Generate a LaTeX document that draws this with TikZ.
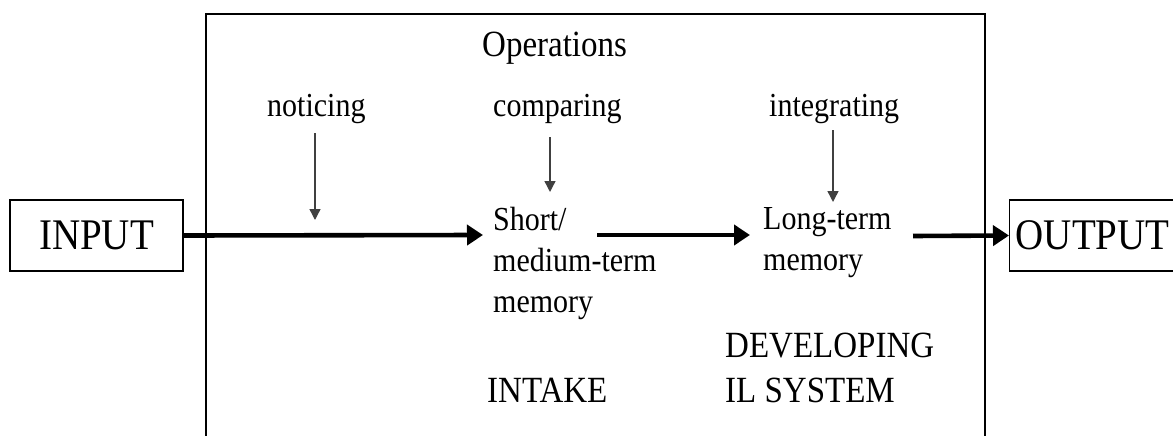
\documentclass[tikz,border=0pt]{standalone}
\usepackage{fontspec}
\usepackage{graphicx}
\setmainfont{Liberation Serif}
\usetikzlibrary{arrows.meta}
\newcommand\vstretch[1]{\scalebox{1}[1.12]{#1}}
\tikzset{
  lbl/.style={inner sep=0pt, anchor=base west},
  mlbl/.style={inner sep=0pt, anchor=north west, align=left},
  iobox/.style={draw, line width=1.2pt, inner sep=0pt, minimum height=71pt, font=\fontsize{39}{44}\selectfont},
  thick arrow/.style={line width=4.6pt, -{Triangle[length=16pt,width=20pt]}},
  thin arrow/.style={line width=1.4pt, draw=black!75, -{Triangle[length=11pt,width=11pt]}},
  frame/.style={line width=2.8pt}
}
\begin{document}
\begin{tikzpicture}[x=1pt,y=-1pt]
\useasboundingbox (0,0) rectangle (1173,436);
\clip (0,0) rectangle (1173,436);
% operations frame, open at the bottom
\draw[frame] (206,445) -- (206,14) -- (985,14) -- (985,445);
% input / output boxes
\node[iobox, minimum width=173pt] (input) at (96.5,235.5) {\vstretch{INPUT}};
\node[iobox, minimum width=166pt, anchor=west] (output) at (1009,235.5) {\vstretch{OUTPUT}};
% labels
\node[lbl, font=\fontsize{33}{40}\selectfont] (ops) at (482,57) {\vstretch{Operations}};
\node[lbl, font=\fontsize{30}{40}\selectfont] (noticing) at (267,116) {\vstretch{noticing}};
\node[lbl, font=\fontsize{30}{40}\selectfont] (comparing) at (493,116) {\vstretch{comparing}};
\node[lbl, font=\fontsize{30}{40}\selectfont] (integrating) at (769,116) {\vstretch{integrating}};
\node[mlbl, font=\fontsize{30}{41}\selectfont] (stm) at (493,207) {\vstretch{Short/}\\\vstretch{medium-term}\\\vstretch{memory}};
\node[mlbl, font=\fontsize{30}{41}\selectfont] (ltm) at (763,207.5) {\vstretch{Long-term}\\\vstretch{memory}};
\node[lbl, font=\fontsize{33}{40}\selectfont] (intake) at (487,402) {\vstretch{INTAKE}};
\node[mlbl, font=\fontsize{33}{45}\selectfont] (dev) at (725,332.5) {\vstretch{DEVELOPING}\\\vstretch{IL SYSTEM}};
% connector end points
\coordinate (a1e) at (483,235);
\coordinate (a2s) at (597,235);
\coordinate (a2e) at (750,235);
\coordinate (a3s) at (913,236);
\coordinate (n1) at (315,133);
\coordinate (n2) at (315,220);
\coordinate (c1) at (550,137);
\coordinate (c2) at (550,192);
\coordinate (i1) at (833,130);
\coordinate (i2) at (833,202);
% main flow
\draw[thick arrow] (input.east) -- (a1e);
\draw[thick arrow] (a2s) -- (a2e);
\draw[thick arrow] (a3s) -- (output.west);
% operations
\draw[thin arrow] (n1) -- (n2);
\draw[thin arrow] (c1) -- (c2);
\draw[thin arrow] (i1) -- (i2);
\end{tikzpicture}
\end{document}
